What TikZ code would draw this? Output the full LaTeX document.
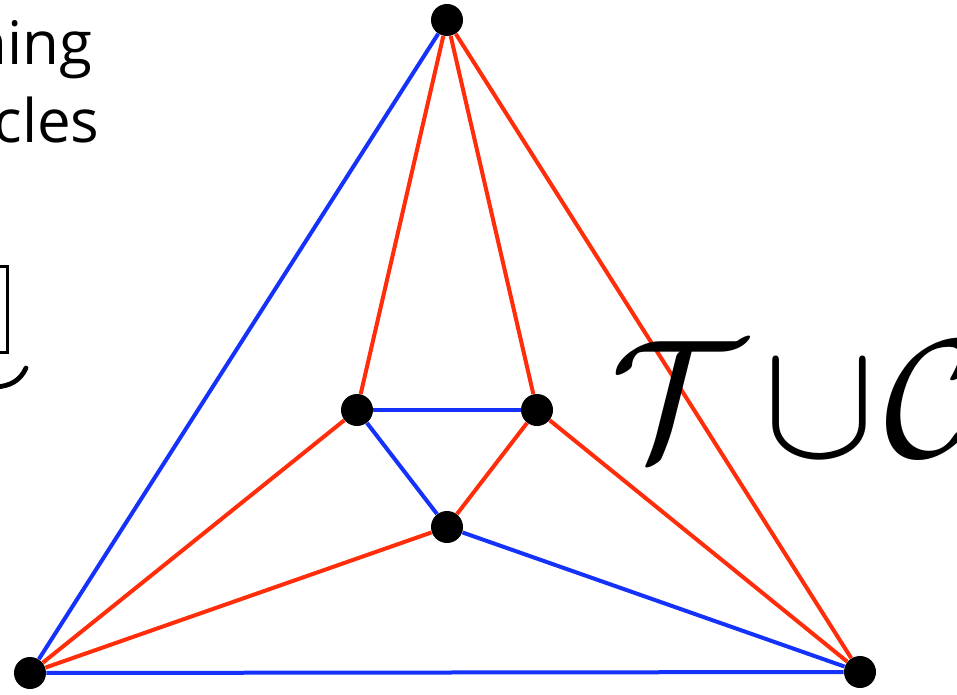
\documentclass[tikz,border=0pt]{standalone}
\usepackage{fontspec}
\setmainfont{Open Sans}
\usepackage{tikz}
\usetikzlibrary{arrows.meta, positioning, calc}
\definecolor{treeblue}{RGB}{20, 50, 250}
\definecolor{cyclered}{RGB}{255, 45, 10}
\tikzset{
  vtx/.style={circle, fill=black, inner sep=0pt, minimum size=16pt},
  tedge/.style={treeblue, line width=2pt},
  cedge/.style={cyclered, line width=2pt},
  capt/.style={anchor=base east, inner sep=0pt, font=\fontsize{30}{36}\selectfont},
}
\begin{document}
\begin{tikzpicture}[x=0.5pt, y=-0.5pt]
  \clip (0,0) rectangle (957,695);
  \useasboundingbox (0,0) rectangle (957,695);
  % ── Caption fragments ──
  \node[capt] (cap1) at (93,65) {ning};
  \node[capt] (cap2) at (100,143) {cles};
  % ── Box and tail on the left ──
  \draw[line width=1.5pt] (-10,266) -- (7,266) -- (7,352) -- (-10,352);
  \draw[line width=2.4pt, line cap=round]
    (26,368) .. controls (20,381) and (10,386) .. (-4,387);
  % ── Vertices ──
  \node[vtx] (t) at (447,20) {};
  \node[vtx] (l) at (357,410) {};
  \node[vtx] (r) at (537,410) {};
  \node[vtx] (m) at (447,527) {};
  \node[vtx] (a) at (30,673) {};
  \node[vtx] (b) at (860,672) {};
  % ── Tree edges ──
  \draw[tedge] (t) -- (a);
  \draw[tedge] (l) -- (r);
  \draw[tedge] (l) -- (m);
  \draw[tedge] (m) -- (b);
  \draw[tedge] (a) -- (b);
  % ── Cycle edges ──
  \draw[cedge] (t) -- (l);
  \draw[cedge] (t) -- (r);
  \draw[cedge] (t) -- (b);
  \draw[cedge] (a) -- (l);
  \draw[cedge] (a) -- (m);
  \draw[cedge] (r) -- (m);
  \draw[cedge] (r) -- (b);
  % ── Label ──
  \node[anchor=base west, inner sep=0pt] (lbl) at (610,456)
    {\scalebox{8.4}{$\mathcal{T}\mkern-2mu\cup\mkern-3mu\mathcal{C}$}};
\end{tikzpicture}
\end{document}
